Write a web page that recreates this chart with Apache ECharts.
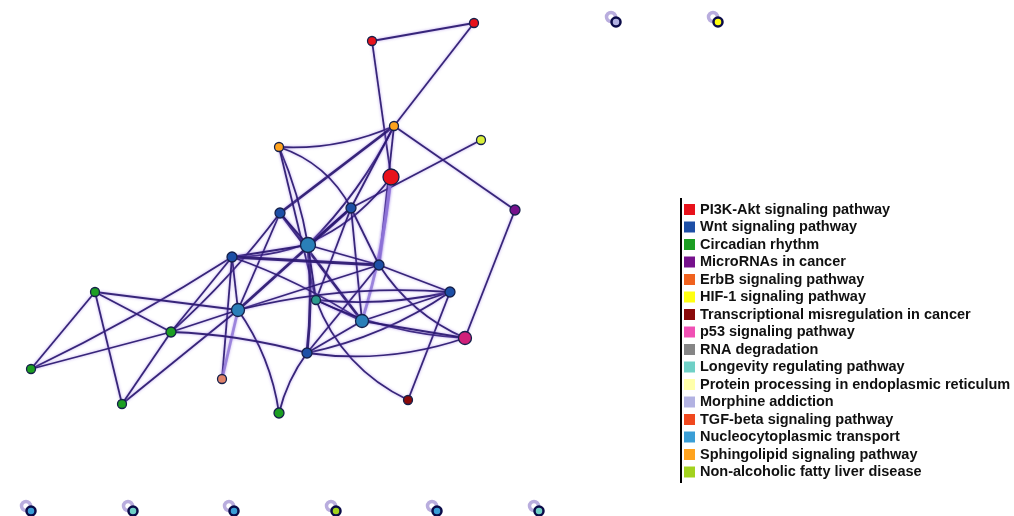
<!DOCTYPE html>
<html><head><meta charset="utf-8">
<script src="https://cdn.jsdelivr.net/npm/echarts@6/dist/echarts.min.js"></script>
<style>html,body{margin:0;padding:0;background:#fff}#chart{width:1014px;height:516px}</style>
</head><body><div id="chart"></div>
<script>
// ---------- data ----------
const categories = [
  'PI3K-Akt signaling pathway', 'Wnt signaling pathway', 'Circadian rhythm', 'MicroRNAs in cancer',
  'ErbB signaling pathway', 'HIF-1 signaling pathway', 'Transcriptional misregulation in cancer',
  'p53 signaling pathway', 'RNA degradation', 'Longevity regulating pathway',
  'Protein processing in endoplasmic reticulum', 'Morphine addiction', 'TGF-beta signaling pathway',
  'Nucleocytoplasmic transport', 'Sphingolipid signaling pathway', 'Non-alcoholic fatty liver disease'
];
const nodeIds      = ['A','B','C','D','E','F','G','H','I','J','K','L','M','N','O','P','Q','R','S','T','U','V','W','X','Y'];
const nodeX        = [474,372,394,279,481,391,515,280,351,308,232,379,450,316,238,362,465, 95,171, 31,122,222,307,279,408];
const nodeY        = [ 23, 41,126,147,140,177,210,213,208,245,257,265,292,300,310,321,338,292,332,369,404,379,353,413,400];
const nodeCategory = [  0,  0, 14, 14,  5,  0,  3,  1,  1, 13,  1,  1,  1,  9, 13, 13,  7,  2,  2,  2,  2,  4,  1,  2,  6];
const nodeScore    = [  1,  1,  1,  1,  1,4.5,1.5,1.5,1.5,  4,1.5,1.5,1.5,  1,  3,  3,  3,  1,1.5,  1,  1,  1,1.5,1.5,  1];
// [source, target, strength]  strength: 1 normal, 2 strong, 3 weak/lavender
const edges = [
  ['A','B',1],['A','C',1],['B','F',1],['C','D',1],['C','G',1],['E','I',1],['G','Q',1],
  ['C','H',2],['C','J',1],['C','I',1],['C','L',1],['F','K',1],
  ['D','J',1],['D','N',1],['D','I',1],
  ['F','P',3],['F','L',3],
  ['H','P',2],['H','J',1],['H','O',1],['H','S',1],
  ['I','J',1],['I','O',2],['I','L',1],['I','P',1],['I','N',1],
  ['J','K',1],['J','W',2],['J','N',1],['J','L',1],
  ['K','L',2],['K','P',1],['K','O',1],['K','T',1],['K','S',1],['K','V',1],
  ['L','O',1],['L','M',1],['L','Q',1],['L','W',1],
  ['M','N',1],['M','P',1],['M','Y',1],['M','W',1],
  ['N','P',1],['N','Q',1],['N','Y',1],
  ['O','R',1],['O','U',1],['O','S',1],['O','V',3],['O','X',1],['O','M',1],
  ['P','W',1],['P','Q',1],['Q','W',1],
  ['R','T',1],['R','U',1],['R','S',1],
  ['S','T',1],['S','U',1],['S','W',1],
  ['X','W',1]
];
// isolated genes with a self loop
const loneX        = [616,718, 31,133,234,336,437,539];
const loneY        = [ 22, 22,511,511,511,511,511,511];
const loneCategory = [ 11,  5, 13,  9, 13, 15, 13,  9];

// ---------- styles ----------
const palette = ['#e8121b','#1d4fa6','#1c9e22','#76118c','#f0621e','#ffff10','#8a0a0a','#f050b4',
                 '#858585','#6fd0c6','#ffffaa','#b2b2e2','#f0481e','#3a9ed6','#ffa31e','#a2d21e'];
const nodeTint = { E: '#d9ef3a', V: '#e0826a', J: '#2a7fb8', O: '#2a7fb8', P: '#2a7fb8', N: '#2a9a8c', Q: '#d0207a' };
const curveStyle = {'C-D':0.12,'D-I':0.2,'F-K':0.25,'N-Y':-0.2,'Q-W':0.12,'M-W':0.1,'M-N':0.08,
                    'L-Q':-0.15,'O-X':0.12,'X-W':0.1,'F-P':0.05,'K-P':0.06,'O-M':0.08,'H-S':0.05,
                    'C-J':0.08,'D-J':0.06,'J-W':0.05,'S-W':0.06,'K-T':0.03,'N-Q':-0.1};

const chart = echarts.init(document.getElementById('chart'));
const nodes = nodeIds.map((id, i) => {
  const n = { name: id, value: [nodeX[i], nodeY[i]], category: nodeCategory[i], symbolSize: 7 + 2 * nodeScore[i] };
  if (nodeTint[id]) n.itemStyle = { color: nodeTint[id] };
  return n;
});
loneX.forEach((x, i) => nodes.push({
  name: 'lone' + i, value: [x, loneY[i]], category: loneCategory[i], symbolSize: 9,
  itemStyle: { borderColor: '#0b0b48', borderWidth: 2.5 }
}));
const links = edges.map(e => {
  const strong = e[2] === 2, weak = e[2] === 3;
  return {
    source: e[0], target: e[1],
    lineStyle: {
      color: weak ? '#8c72d6' : '#28166e',
      width: strong ? 2.8 : (weak ? 2.8 : 1.8),
      opacity: weak ? 0.8 : 0.92,
      curveness: curveStyle[e[0] + '-' + e[1]] || 0
    }
  };
});

chart.setOption({
  animation: false,
  backgroundColor: '#ffffff',
  grid: { left: 0, right: 0, top: 0, bottom: 0 },
  xAxis: { type: 'value', min: 0, max: 1014, show: false },
  yAxis: { type: 'value', min: 0, max: 516, inverse: true, show: false },
  legend: {
    data: categories, orient: 'vertical', left: 684, top: 202, padding: 0,
    itemWidth: 11, itemHeight: 11, itemGap: 2.5, icon: 'rect',
    selectedMode: false,
    itemStyle: { borderWidth: 0 },
    textStyle: { fontFamily: 'Liberation Sans, Arial, sans-serif', fontSize: 14.5, fontWeight: 'bold', color: '#111' }
  },
  graphic: [{
    type: 'line', shape: { x1: 681, y1: 198, x2: 681, y2: 483 },
    style: { stroke: '#000', lineWidth: 2 }
  }],
  series: [
    {
      type: 'scatter', coordinateSystem: 'cartesian2d', z: 1, silent: true,
      data: loneX.map((x, i) => [x, loneY[i]]),
      symbol: 'circle', symbolSize: 9, symbolOffset: [-5, -5],
      itemStyle: { color: 'rgba(0,0,0,0)', borderColor: '#a898d6', borderWidth: 3.5 }
    },
    {
      type: 'graph', coordinateSystem: 'cartesian2d', layout: 'none', z: 2,
      categories: categories.map((c, i) => ({ name: c, itemStyle: { color: palette[i] } })),
      data: nodes, links: links,
      itemStyle: { borderColor: '#15204a', borderWidth: 1.3 },
      lineStyle: { shadowBlur: 3, shadowColor: 'rgba(150,115,230,0.7)' },
      label: { show: false },
      emphasis: { disabled: true }
    }
  ]
});
</script></body></html>
